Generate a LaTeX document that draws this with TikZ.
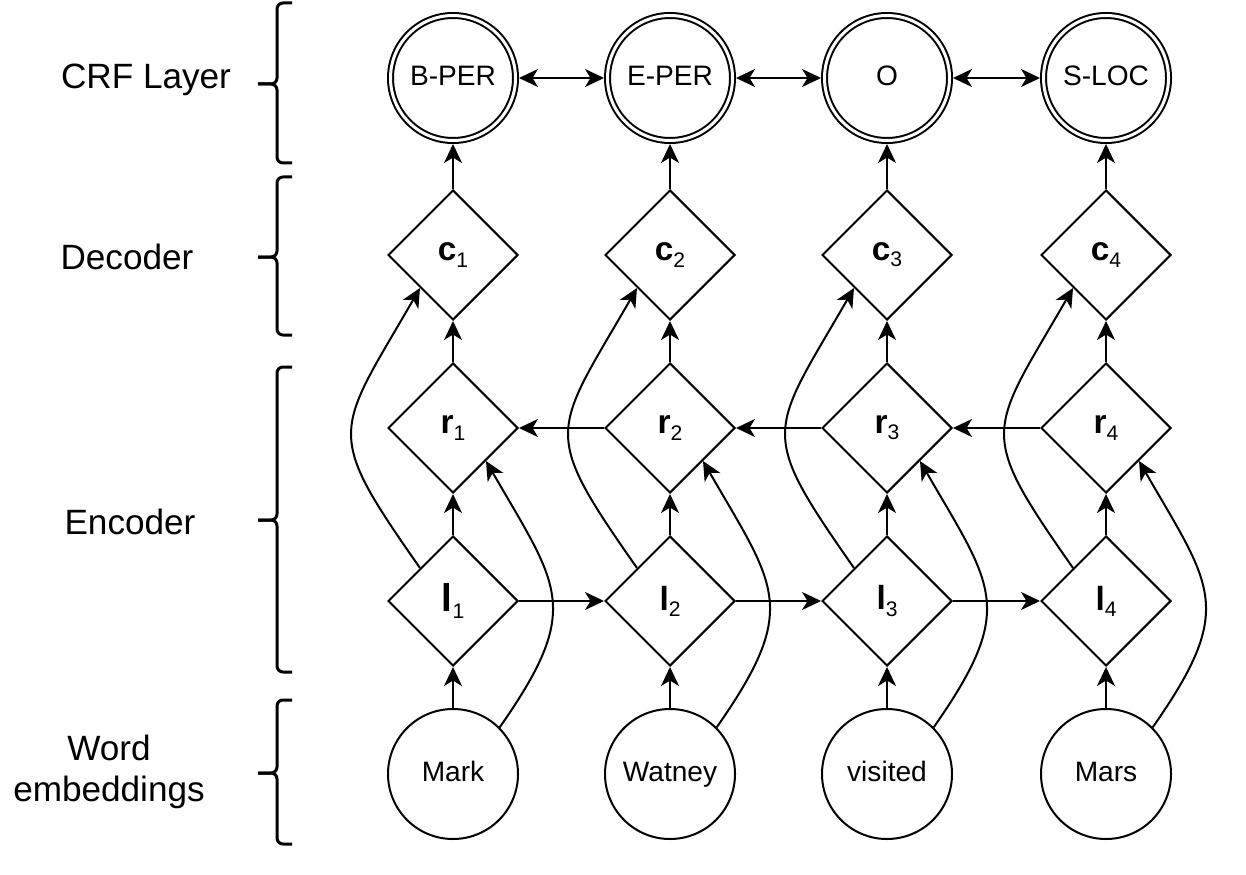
\documentclass[tikz,border=0pt]{standalone}
\usepackage{fontspec}
\setmainfont{Liberation Sans}
\usetikzlibrary{arrows.meta, shapes.geometric}

\newcommand{\vecsub}[2]{{\fontsize{19}{22}\selectfont\bfseries #1}\raisebox{-3.5pt}{\fontsize{12}{14}\selectfont #2}}

\tikzset{
  word_node/.style={circle, draw, line width=0.04cm, minimum size=2.6cm, inner sep=0pt, text height=0.9em, text depth=0pt, font=\fontsize{16}{19}\selectfont},
  tag_node/.style={circle, draw, line width=0.04cm, double, double distance=0.06cm, outer sep=0.07cm, minimum size=2.5cm, inner sep=0pt, text height=0.9em, text depth=0pt, font=\fontsize{16}{19}\selectfont},
  cell_node/.style={diamond, draw, line width=0.04cm, minimum width=2.6cm, minimum height=2.6cm, inner sep=0pt},
  layer_label/.style={align=center, font=\fontsize{20}{23}\selectfont},
  conn/.style={line width=0.04cm, -{Stealth[length=0.38cm, width=0.36cm, inset=0.11cm]}},
  conn_both/.style={line width=0.04cm, {Stealth[length=0.38cm, width=0.36cm, inset=0.11cm]}-{Stealth[length=0.38cm, width=0.36cm, inset=0.11cm]}},
  bracket/.style={line width=0.06cm, rounded corners=0.12cm}
}

\begin{document}
\begin{tikzpicture}
\useasboundingbox (0,0) rectangle (24.92,17.48);

% layer names on the left
\node[layer_label] (crf_lbl) at (2.92,15.88) {CRF Layer};
\node[layer_label] (dec_lbl) at (2.54,12.34) {Decoder};
\node[layer_label] (enc_lbl) at (2.60,7.04) {Encoder};
\node[layer_label] (emb_lbl) at (2.18,2.04) {Word\\embeddings};

\draw[bracket] (5.84,17.42) -- (5.54,17.42) -- (5.54,15.80) -- (5.16,15.80);
\draw[bracket] (5.16,15.80) -- (5.54,15.80) -- (5.54,14.22) -- (5.84,14.22);

\draw[bracket] (5.84,13.94) -- (5.54,13.94) -- (5.54,12.34) -- (5.16,12.34);
\draw[bracket] (5.16,12.34) -- (5.54,12.34) -- (5.54,10.78) -- (5.84,10.78);

\draw[bracket] (5.84,10.14) -- (5.54,10.14) -- (5.54,7.08) -- (5.16,7.08);
\draw[bracket] (5.16,7.08) -- (5.54,7.08) -- (5.54,4.04) -- (5.84,4.04);

\draw[bracket] (5.84,3.48) -- (5.54,3.48) -- (5.54,2.02) -- (5.16,2.02);
\draw[bracket] (5.16,2.02) -- (5.54,2.02) -- (5.54,0.60) -- (5.84,0.60);

% CRF layer
\node[tag_node] (tag1) at (9.06,15.92) {B-PER};
\node[tag_node] (tag2) at (13.40,15.92) {E-PER};
\node[tag_node] (tag3) at (17.74,15.92) {O};
\node[tag_node] (tag4) at (22.12,15.92) {S-LOC};

% decoder
\node[cell_node] (c1) at (9.06,12.38) {\vecsub{c}{1}};
\node[cell_node] (c2) at (13.40,12.38) {\vecsub{c}{2}};
\node[cell_node] (c3) at (17.74,12.38) {\vecsub{c}{3}};
\node[cell_node] (c4) at (22.12,12.38) {\vecsub{c}{4}};

% encoder
\node[cell_node] (r1) at (9.06,8.92) {\vecsub{r}{1}};
\node[cell_node] (r2) at (13.40,8.92) {\vecsub{r}{2}};
\node[cell_node] (r3) at (17.74,8.92) {\vecsub{r}{3}};
\node[cell_node] (r4) at (22.12,8.92) {\vecsub{r}{4}};

\node[cell_node] (l1) at (9.06,5.46) {{\fontsize{22}{24}\selectfont\bfseries l}\raisebox{-3.5pt}{\fontsize{12}{14}\selectfont 1}};
\node[cell_node] (l2) at (13.40,5.46) {\vecsub{l}{2}};
\node[cell_node] (l3) at (17.74,5.46) {\vecsub{l}{3}};
\node[cell_node] (l4) at (22.12,5.46) {\vecsub{l}{4}};

% word embeddings
\node[word_node] (word1) at (9.06,2.00) {Mark};
\node[word_node] (word2) at (13.40,2.00) {Watney};
\node[word_node] (word3) at (17.74,2.00) {visited};
\node[word_node] (word4) at (22.12,2.00) {Mars};

% vertical flow
\draw[conn] (word1) -- (l1);
\draw[conn] (word2) -- (l2);
\draw[conn] (word3) -- (l3);
\draw[conn] (word4) -- (l4);

\draw[conn] (l1) -- (r1);
\draw[conn] (l2) -- (r2);
\draw[conn] (l3) -- (r3);
\draw[conn] (l4) -- (r4);

\draw[conn] (r1) -- (c1);
\draw[conn] (r2) -- (c2);
\draw[conn] (r3) -- (c3);
\draw[conn] (r4) -- (c4);

\draw[conn] (c1) -- (tag1);
\draw[conn] (c2) -- (tag2);
\draw[conn] (c3) -- (tag3);
\draw[conn] (c4) -- (tag4);

% left-to-right and right-to-left chains
\draw[conn] (l1.east) -- (l2.west);
\draw[conn] (l2.east) -- (l3.west);
\draw[conn] (l3.east) -- (l4.west);

\draw[conn] (r2.west) -- (r1.east);
\draw[conn] (r3.west) -- (r2.east);
\draw[conn] (r4.west) -- (r3.east);

\draw[conn_both] (tag1) -- (tag2);
\draw[conn_both] (tag2) -- (tag3);
\draw[conn_both] (tag3) -- (tag4);

% skip connections
\draw[conn] (l1.north west) to[out=125, in=240, looseness=1.55] (c1.south west);
\draw[conn] (l2.north west) to[out=125, in=240, looseness=1.55] (c2.south west);
\draw[conn] (l3.north west) to[out=125, in=240, looseness=1.55] (c3.south west);
\draw[conn] (l4.north west) to[out=125, in=240, looseness=1.55] (c4.south west);

\draw[conn] (word1.north east) to[out=55, in=-60, looseness=1.4] (r1.south east);
\draw[conn] (word2.north east) to[out=55, in=-60, looseness=1.4] (r2.south east);
\draw[conn] (word3.north east) to[out=55, in=-60, looseness=1.4] (r3.south east);
\draw[conn] (word4.north east) to[out=55, in=-60, looseness=1.4] (r4.south east);

\end{tikzpicture}
\end{document}
